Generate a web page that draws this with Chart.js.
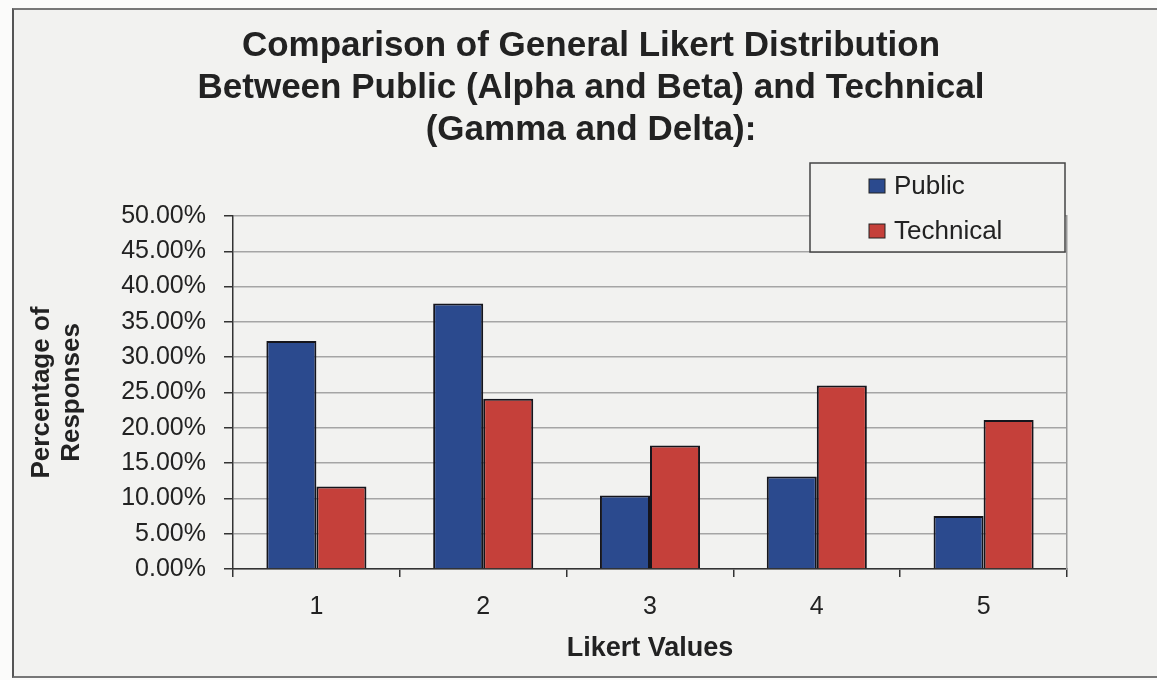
<!DOCTYPE html>
<html>
<head>
<meta charset="utf-8">
<script src="https://cdn.jsdelivr.net/npm/chart.js"></script>
<style>
  html, body { margin: 0; padding: 0; background: #fbfbfa; }
  .frame {
    position: absolute; left: 12px; top: 8px; width: 1160px; height: 666px;
    border-left: 2px solid #555; border-top: 2px solid #777; border-bottom: 2px solid #777;
    background: #f2f2f0;
  }
  #likertChart { position: absolute; left: 0; top: 0; }
</style>
</head>
<body>
<div class="frame"></div>
<canvas id="likertChart" width="1157" height="680"></canvas>
<script>
// values (percent of responses)
const likertValues = ['1', '2', '3', '4', '5'];
const publicPct = [32.3, 37.6, 10.4, 13.1, 7.5];
const technicalPct = [11.7, 24.1, 17.5, 26.0, 21.1];
const yTickValues = [0, 5, 10, 15, 20, 25, 30, 35, 40, 45, 50];

const FONT = "'Liberation Sans', Arial, sans-serif";
const BG = '#f2f2f0';

// legend drawn as a boxed panel like the original Excel chart
const boxLegend = {
  id: 'boxLegend',
  afterDraw(chart) {
    const ctx = chart.ctx;
    ctx.save();
    ctx.fillStyle = BG;
    ctx.fillRect(810, 163, 255, 89);
    ctx.strokeStyle = '#444';
    ctx.lineWidth = 1.5;
    ctx.strokeRect(810, 163, 255, 89);
    chart.data.datasets.forEach((ds, i) => {
      const cy = 186 + i * 45;
      ctx.fillStyle = ds.backgroundColor;
      ctx.fillRect(869, cy - 7, 16, 14);
      ctx.strokeStyle = '#222';
      ctx.lineWidth = 1;
      ctx.strokeRect(869, cy - 7, 16, 14);
      ctx.fillStyle = '#222';
      ctx.font = '26px ' + FONT;
      ctx.textBaseline = 'middle';
      ctx.fillText(ds.label, 894, cy + 1);
    });
    ctx.restore();
  }
};

const ctx = document.getElementById('likertChart').getContext('2d');
new Chart(ctx, {
  type: 'bar',
  data: {
    labels: likertValues,
    datasets: [{
      label: 'Public',
      data: publicPct,
      backgroundColor: '#2b4a8e',
      borderColor: '#15151c',
      borderWidth: 2
    }, {
      label: 'Technical',
      data: technicalPct,
      backgroundColor: '#c5403a',
      borderColor: '#15151c',
      borderWidth: 2
    }]
  },
  options: {
    responsive: false,
    animation: false,
    categoryPercentage: 0.6,
    barPercentage: 1.0,
    layout: { padding: { left: 27, right: 2, top: 0, bottom: 10 } },
    scales: {
      x: {
        offset: true,
        grid: { display: true, offset: true, drawOnChartArea: false, tickLength: 8, tickColor: '#333', lineWidth: 1.5 },
        border: { display: true, color: '#333', width: 1.5 },
        ticks: { color: '#222', font: { family: FONT, size: 25 }, padding: 15, maxRotation: 0 },
        title: { display: true, text: 'Likert Values', color: '#222', font: { family: FONT, size: 27, weight: 'bold' }, padding: { top: 4, bottom: 5 } },
        afterFit(scale) { scale.height = 101; }
      },
      y: {
        min: 0,
        max: 50,
        afterBuildTicks(scale) { scale.ticks = yTickValues.map(v => ({ value: v })); },
        grid: { color: '#a5a5a5', lineWidth: 1.5, tickLength: 9, tickColor: '#333' },
        border: { display: true, color: '#333', width: 1.5 },
        ticks: { color: '#222', font: { family: FONT, size: 25 }, padding: 18, callback: v => v.toFixed(2) + '%' },
        title: { display: true, text: ['Percentage of', 'Responses'], color: '#222', font: { family: FONT, size: 26, weight: 'bold', lineHeight: 1.15 }, padding: { top: 0, bottom: 0 } },
        afterFit(scale) { scale.width = 206; }
      },
      y2: {
        position: 'right',
        min: 0,
        max: 50,
        grid: { drawOnChartArea: false, drawTicks: false },
        border: { display: true, color: '#999', width: 1.5 },
        ticks: { display: false },
        afterFit(scale) { scale.width = 88; }
      }
    },
    plugins: {
      legend: { display: false },
      tooltip: { enabled: false },
      title: {
        display: true,
        text: ['Comparison of General Likert Distribution', 'Between Public (Alpha and Beta) and Technical', '(Gamma and Delta):'],
        color: '#222',
        font: { family: FONT, size: 35, weight: 'bold', lineHeight: 1.2 },
        padding: { top: 25, bottom: 65 }
      }
    }
  },
  plugins: [boxLegend]
});
</script>
</body>
</html>
